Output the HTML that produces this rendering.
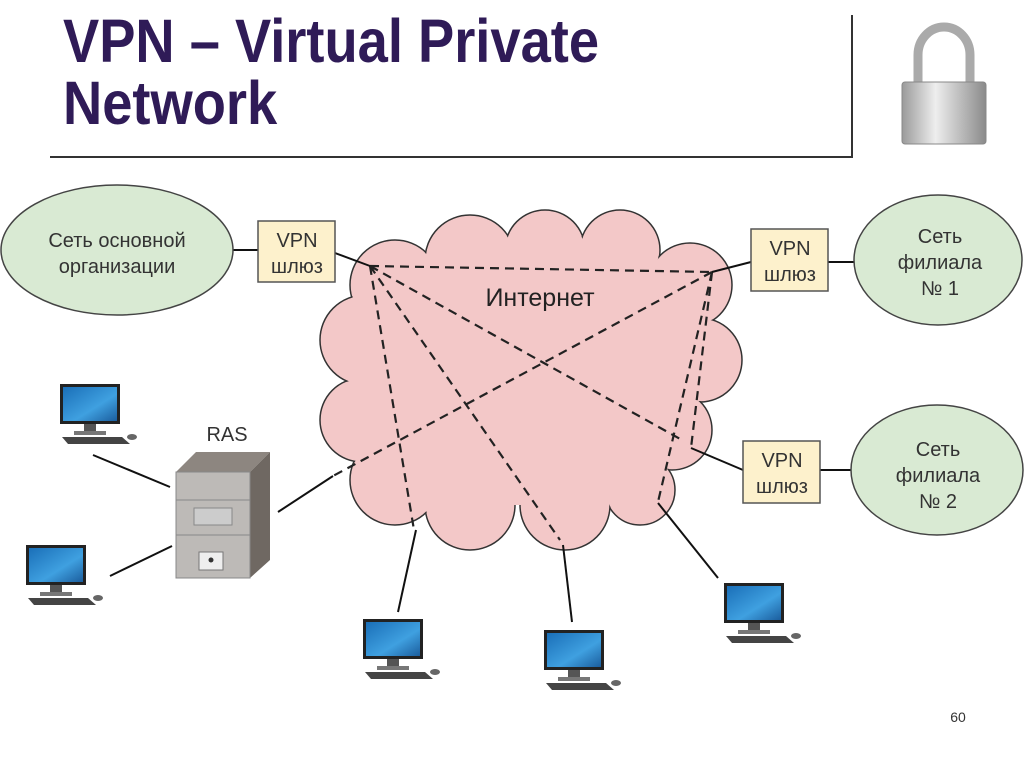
<!DOCTYPE html>
<html><head><meta charset="utf-8"><style>
body{margin:0;background:#fff;}
svg{display:block;}
</style></head><body>
<svg width="1024" height="767" viewBox="0 0 1024 767" xmlns="http://www.w3.org/2000/svg" font-family="Liberation Sans, DejaVu Sans, sans-serif">
<defs>
<linearGradient id="scr" x1="0" y1="0" x2="1" y2="1"><stop offset="0" stop-color="#1a6fb8"/><stop offset="0.6" stop-color="#3fa0e0"/><stop offset="1" stop-color="#1b5e9e"/></linearGradient>
<linearGradient id="lock" x1="0" y1="0" x2="1" y2="0"><stop offset="0" stop-color="#9a9a9a"/><stop offset="0.4" stop-color="#eeeeee"/><stop offset="1" stop-color="#8a8a8a"/></linearGradient>
<g id="pc">
<rect x="0" y="0" width="60" height="40" fill="#222"/>
<rect x="3" y="3" width="54" height="34" fill="url(#scr)"/>
<rect x="24" y="40" width="12" height="8" fill="#555"/>
<rect x="14" y="47" width="32" height="4" fill="#777"/>
<polygon points="2,53 62,53 70,60 8,60" fill="#444"/>
<ellipse cx="72" cy="53" rx="5" ry="3" fill="#666"/>
</g>
</defs>
<!-- title -->
<g transform="translate(63,0) scale(0.89,1)">
<text x="0" y="62" font-size="61" font-weight="bold" fill="#2f1b57">VPN – Virtual Private</text>
<text x="0" y="124" font-size="61" font-weight="bold" fill="#2f1b57">Network</text>
</g>
<line x1="50" y1="157" x2="853" y2="157" stroke="#333" stroke-width="2"/>
<line x1="852" y1="15" x2="852" y2="157" stroke="#333" stroke-width="2"/>
<!-- padlock -->
<path d="M918,85 V55 a26,28 0 0 1 52,0 V85" fill="none" stroke="#aaa" stroke-width="9"/>
<rect x="902" y="82" width="84" height="62" rx="3" fill="url(#lock)" stroke="#888"/>
<!-- cloud -->
<g fill="#f3c8c8" stroke="#333" stroke-width="1.5">
<circle cx="395" cy="285" r="45"/><circle cx="470" cy="260" r="45"/><circle cx="545" cy="250" r="40"/><circle cx="620" cy="250" r="40"/><circle cx="690" cy="285" r="42"/><circle cx="700" cy="360" r="42"/><circle cx="672" cy="430" r="40"/><circle cx="640" cy="490" r="35"/><circle cx="565" cy="505" r="45"/><circle cx="470" cy="505" r="45"/><circle cx="395" cy="480" r="45"/><circle cx="362" cy="420" r="42"/><circle cx="365" cy="340" r="45"/>
</g>
<g fill="#f3c8c8">
<circle cx="395" cy="285" r="44"/><circle cx="470" cy="260" r="44"/><circle cx="545" cy="250" r="39"/><circle cx="620" cy="250" r="39"/><circle cx="690" cy="285" r="41"/><circle cx="700" cy="360" r="41"/><circle cx="672" cy="430" r="39"/><circle cx="640" cy="490" r="34"/><circle cx="565" cy="505" r="44"/><circle cx="470" cy="505" r="44"/><circle cx="395" cy="480" r="44"/><circle cx="362" cy="420" r="41"/><circle cx="365" cy="340" r="44"/>
<polygon points="395,285 470,260 545,250 620,250 690,285 700,360 672,430 640,490 565,505 470,505 395,480 362,420 365,340"/>
</g>
<text x="540" y="306" font-size="25" text-anchor="middle" fill="#222">Интернет</text>
<!-- dashed -->
<g stroke="#222" stroke-width="2.2" stroke-dasharray="9,6" fill="none">
<line x1="370" y1="266" x2="712" y2="272"/>
<line x1="370" y1="266" x2="682" y2="440"/>
<line x1="370" y1="266" x2="414" y2="530"/>
<line x1="370" y1="266" x2="560" y2="540"/>
<line x1="712" y1="272" x2="333" y2="476"/>
<line x1="712" y1="272" x2="691" y2="448"/>
<line x1="712" y1="272" x2="658" y2="502"/>
</g>
<!-- solid lines -->
<g stroke="#111" stroke-width="2">
<line x1="233" y1="250" x2="258" y2="250"/>
<line x1="335" y1="253" x2="370" y2="266"/>
<line x1="712" y1="272" x2="751" y2="262"/>
<line x1="828" y1="262" x2="856" y2="262"/>
<line x1="691" y1="448" x2="743" y2="470"/>
<line x1="820" y1="470" x2="851" y2="470"/>
<line x1="93" y1="455" x2="170" y2="487"/>
<line x1="110" y1="576" x2="172" y2="546"/>
<line x1="278" y1="512" x2="333" y2="476"/>
<line x1="416" y1="530" x2="398" y2="612"/>
<line x1="563" y1="545" x2="572" y2="622"/>
<line x1="658" y1="503" x2="718" y2="578"/>
</g>
<!-- ellipses -->
<g fill="#d9ead3" stroke="#444" stroke-width="1.5">
<ellipse cx="117" cy="250" rx="116" ry="65"/>
<ellipse cx="938" cy="260" rx="84" ry="65"/>
<ellipse cx="937" cy="470" rx="86" ry="65"/>
</g>
<g font-size="20" fill="#333" text-anchor="middle">
<text x="117" y="247">Сеть основной</text><text x="117" y="273">организации</text>
<text x="940" y="243">Сеть</text><text x="940" y="269">филиала</text><text x="940" y="295">№ 1</text>
<text x="938" y="456">Сеть</text><text x="938" y="482">филиала</text><text x="938" y="508">№ 2</text>
</g>
<!-- VPN boxes -->
<g fill="#fdf1cc" stroke="#555" stroke-width="1.5">
<rect x="258" y="221" width="77" height="61"/>
<rect x="751" y="229" width="77" height="62"/>
<rect x="743" y="441" width="77" height="62"/>
</g>
<g font-size="20" fill="#333" text-anchor="middle">
<text x="297" y="247">VPN</text><text x="297" y="273">шлюз</text>
<text x="790" y="255">VPN</text><text x="790" y="281">шлюз</text>
<text x="782" y="467">VPN</text><text x="782" y="493">шлюз</text>
</g>
<!-- RAS -->
<text x="227" y="441" font-size="20" fill="#333" text-anchor="middle">RAS</text>
<polygon points="176,472 196,452 270,452 250,472" fill="#8d8680"/>
<polygon points="250,472 270,452 270,560 250,578" fill="#6f6862"/>
<rect x="176" y="472" width="74" height="106" fill="#bdbab7" stroke="#888"/>
<line x1="176" y1="500" x2="250" y2="500" stroke="#888"/>
<line x1="176" y1="535" x2="250" y2="535" stroke="#888"/>
<rect x="194" y="508" width="38" height="17" fill="#ccc" stroke="#888"/>
<rect x="199" y="552" width="24" height="18" fill="#eee" stroke="#777"/>
<circle cx="211" cy="560" r="2.5" fill="#333"/>
<!-- PCs -->
<use href="#pc" transform="translate(60,384)"/>
<use href="#pc" transform="translate(26,545)"/>
<use href="#pc" transform="translate(363,619)"/>
<use href="#pc" transform="translate(544,630)"/>
<use href="#pc" transform="translate(724,583)"/>
<text x="958" y="722" font-size="14" fill="#333" text-anchor="middle">60</text>
</svg>
</body></html>
